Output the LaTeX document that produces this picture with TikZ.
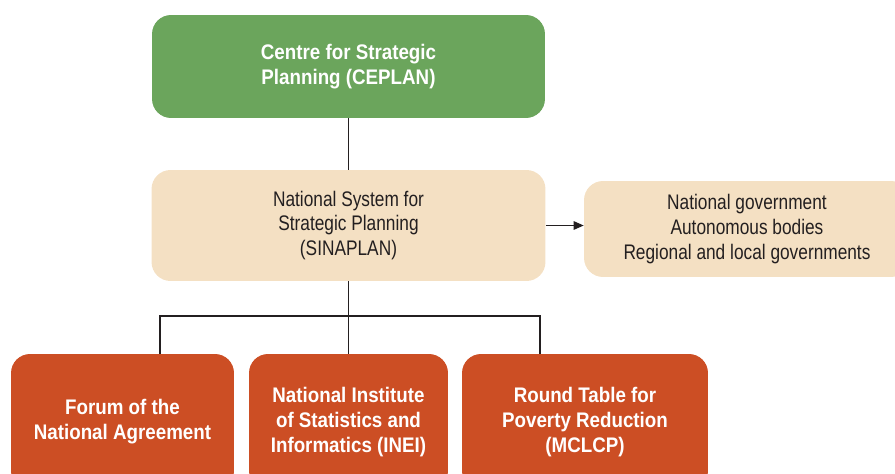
\documentclass[tikz,border=0pt]{standalone}
\usepackage{fontspec}
\setmainfont[FakeStretch=0.82, BoldFeatures={FakeStretch=0.89}]{Liberation Sans}
\usetikzlibrary{arrows.meta,positioning}
\definecolor{cplan}{HTML}{6BA55C}
\definecolor{csys}{HTML}{F4E0C3}
\definecolor{cinst}{HTML}{CC4E24}
\definecolor{ctext}{HTML}{231F20}
\tikzset{
  box/.style={rounded corners=0.38cm, align=center, inner sep=0pt, font=\fontsize{12}{14.2}\selectfont},
  lead/.style={box, fill=cplan, text=white, font=\fontsize{12}{14.2}\selectfont\bfseries},
  sysn/.style={box, fill=csys, text=ctext},
  inst/.style={box, fill=cinst, text=white, font=\fontsize{12}{14.2}\selectfont\bfseries, minimum height=2.72cm},
  link/.style={draw=ctext, line width=0.75pt},
  flow/.style={link, -{Triangle[length=2mm, width=1.7mm]}},
}
\begin{document}
\begin{tikzpicture}[x=0.02cm, y=-0.02cm]
\useasboundingbox (0,0) rectangle (895,473);
\clip (0,0) rectangle (895,473);
% top level
\node[lead, minimum width=7.86cm, minimum height=2.06cm] (ceplan) at (348.5,66.5) {Centre for Strategic\\Planning (CEPLAN)};
\node[sysn, minimum width=7.88cm, minimum height=2.22cm] (sinaplan) at (348.5,225.5) {National System for\\Strategic Planning\\(SINAPLAN)};
\node[sysn, minimum width=6.52cm, minimum height=1.92cm] (members) at (747,229) {National government\\Autonomous bodies\\Regional and local governments};
% bottom row
\node[inst, minimum width=4.46cm] (forum) at (122.5,422) {Forum of the\\National Agreement};
\node[inst, minimum width=3.98cm] (inei) at (348.5,422) {National Institute\\of Statistics and\\Informatics (INEI)};
\node[inst, minimum width=4.92cm] (mclcp) at (585,422) {Round Table for\\Poverty Reduction\\(MCLCP)};
\coordinate (split) at (348.5,316);
% connectors
\draw[link] (ceplan) -- (sinaplan);
\draw[flow] (sinaplan.east) -- (sinaplan.east -| members.west);
\draw[link] (sinaplan) -- (inei);
\draw[link] ([xshift=0.75cm]forum.north) |- (split);
\draw[link] ([xshift=-0.9cm]mclcp.north) |- (split);
\end{tikzpicture}
\end{document}
